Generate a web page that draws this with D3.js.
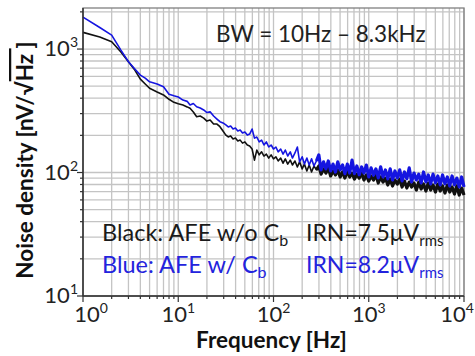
<!DOCTYPE html>
<html>
<head>
<meta charset="utf-8">
<script src="https://cdn.jsdelivr.net/npm/d3@7"></script>
<style>
  body { margin: 0; background: #fff; }
  svg text { font-family: Lato, "Open Sans", sans-serif; }
</style>
</head>
<body>
<div id="chart"></div>
<script>
// low frequency part (shared frequency points)
var freqLow = [1, 1.5, 2, 2.5, 3, 3.5, 4, 4.5, 5, 6, 7, 8, 9, 10, 11.2, 12.4, 13.3, 14.4, 15.6, 17, 18.5, 20, 21.6, 23.5, 25.5, 27.4, 29.5];
var blueLow = [1815, 1494, 1298, 981, 789, 689, 615, 582, 543, 521, 495, 430, 418, 409, 386, 377, 352, 362, 341, 333, 321, 306, 310, 287, 271, 258, 252];
var blackLow = [1365, 1251, 1146, 946, 790, 676, 571, 521, 481, 449, 425, 392, 370, 360, 352, 340, 331, 309, 283, 287, 276, 261, 266, 247, 247, 235, 217];

// noisy part
var freqHigh = [
  31.6, 33.5, 35.5, 37.6, 39.8, 42.2, 44.7, 47.3, 50.1, 53.1,
  56.2, 59.6, 63.1, 66.8, 70.8, 75.0, 79.4, 84.1, 89.1, 94.4,
  100, 106, 112, 119, 126, 133, 141, 150, 158, 168,
  178, 188, 200, 211, 224, 237, 251, 266, 282, 299,
  316, 335, 355, 376, 398, 422, 447, 473, 501, 531,
  562, 596, 631, 668, 708, 750, 794, 841, 891, 944,
  1000, 1059, 1122, 1189, 1259, 1334, 1413, 1496, 1585, 1679,
  1778, 1884, 1995, 2113, 2239, 2371, 2512, 2661, 2818, 2985,
  3162, 3350, 3548, 3758, 3981, 4217, 4467, 4732, 5012, 5309,
  5623, 5957, 6310, 6683, 7079, 7499, 7943, 8414, 8913, 9441,
  10000];
var blueHigh = [
  243, 234, 238, 225, 229, 217, 221, 209, 213, 201,
  205, 225, 190, 194, 177, 183, 167, 177, 161, 167,
  155, 161, 147, 155, 141, 152, 136, 147, 131, 144,
  161, 122, 134, 117, 131, 115, 129, 113, 124, 139,
  105, 122, 107, 124, 103, 117, 101, 122, 105, 115,
  98, 117, 99, 126, 98, 113, 96, 111, 99, 115,
  92, 109, 95, 107, 90.5, 111, 92, 105, 89, 107,
  87, 103, 90.5, 105, 85.5, 101, 89, 109, 84, 99,
  87, 97, 82.5, 101, 84, 95.5, 81, 97, 82.5, 93.8,
  79.5, 95.5, 81, 92, 78, 93.8, 79.5, 90.2, 76.5, 92,
  76.5];
var blackHigh = [
  201, 194, 198, 187, 190, 180, 183, 173, 177, 167,
  164, 155, 126, 152, 139, 147, 136, 141, 131, 139,
  129, 134, 124, 131, 119, 129, 117, 126, 115, 124,
  111, 122, 107, 117, 103, 115, 101, 113, 105, 113,
  97, 107, 99, 109, 93.8, 103, 95.5, 105, 92, 101,
  90.2, 103, 92, 99, 88.5, 97, 90.2, 99, 86.9, 95.5,
  85.3, 93.8, 86.9, 95.5, 82.2, 92, 83.7, 90.2, 79.2, 88.5,
  77.8, 86.9, 80.7, 88.5, 76.3, 85.3, 74.9, 83.7, 76.3, 82.2,
  72.1, 83.7, 73.5, 80.7, 70.8, 82.2, 72.1, 79.2, 69.5, 80.7,
  70.8, 77.8, 68.2, 79.2, 69.5, 76.3, 66.9, 77.8, 65.7, 74.9,
  65.7];

var xTicks = [1, 10, 100, 1000, 10000];
var yTicks = [10, 100, 1000];

var width = 475, height = 356;
var margin = {top: 8, right: 11, bottom: 60, left: 83};

var svg = d3.select("#chart").append("svg")
  .attr("width", width)
  .attr("height", height);

var x = d3.scaleLog().domain([1, 10000]).range([margin.left, width - margin.right]);
var y = d3.scaleLog().domain([10, 2150]).range([height - margin.bottom, margin.top]);

// grid
var xGrid = [];
xTicks.forEach(function(t) {
  for (var m = 1; m < 10; m++) { if (t * m <= 10000) xGrid.push(t * m); }
});
var yGrid = [];
[10, 100, 1000].forEach(function(t) {
  for (var m = 1; m < 10; m++) { if (t * m <= 2150) yGrid.push(t * m); }
});

svg.append("g").selectAll("line").data(xGrid).enter().append("line")
  .attr("x1", d => x(d)).attr("x2", d => x(d))
  .attr("y1", y.range()[1]).attr("y2", y.range()[0])
  .attr("stroke", "#c4c4c4").attr("stroke-width", 1.3);

svg.append("g").selectAll("line").data(yGrid).enter().append("line")
  .attr("y1", d => y(d)).attr("y2", d => y(d))
  .attr("x1", x.range()[0]).attr("x2", x.range()[1])
  .attr("stroke", "#c4c4c4").attr("stroke-width", 1.3);

// frame
svg.append("rect")
  .attr("x", x.range()[0]).attr("y", y.range()[1])
  .attr("width", x.range()[1] - x.range()[0])
  .attr("height", y.range()[0] - y.range()[1])
  .attr("fill", "none").attr("stroke", "#808080").attr("stroke-width", 1.3);

// curves
var line = d3.line().x(d => x(d.f)).y(d => y(d.v));
var freqAll = freqLow.concat(freqHigh);
var blackAll = blackLow.concat(blackHigh);
var blueAll = blueLow.concat(blueHigh);
var blackData = freqAll.map((f, i) => ({f: f, v: blackAll[i]}));
var blueData = freqAll.map((f, i) => ({f: f, v: blueAll[i]}));
// the dense part above ~300 Hz reads as a solid band
var denseStart = freqLow.length + 38;

function drawSeries(data, color) {
  svg.append("path").datum(data)
    .attr("d", line).attr("fill", "none")
    .attr("stroke", color).attr("stroke-width", 1.6).attr("stroke-linejoin", "round");
  svg.append("path").datum(data.slice(denseStart))
    .attr("d", line).attr("fill", "none")
    .attr("stroke", color).attr("stroke-width", 3.2).attr("stroke-linejoin", "round");
}
drawSeries(blackData, "#111");
drawSeries(blueData, "#1515e0");

// axes lines + ticks
var axisColor = "#333";
svg.append("line")
  .attr("x1", x.range()[0]).attr("x2", x.range()[1])
  .attr("y1", y.range()[0]).attr("y2", y.range()[0])
  .attr("stroke", axisColor).attr("stroke-width", 1.5);
svg.append("line")
  .attr("x1", x.range()[0]).attr("x2", x.range()[0])
  .attr("y1", y.range()[0]).attr("y2", y.range()[1])
  .attr("stroke", axisColor).attr("stroke-width", 1.5);

svg.append("g").selectAll("line").data(xGrid).enter().append("line")
  .attr("x1", d => x(d)).attr("x2", d => x(d))
  .attr("y1", y.range()[0]).attr("y2", d => y.range()[0] + (xTicks.indexOf(d) >= 0 ? 6 : 3))
  .attr("stroke", axisColor).attr("stroke-width", 1.2);
svg.append("g").selectAll("line").data(yGrid).enter().append("line")
  .attr("y1", d => y(d)).attr("y2", d => y(d))
  .attr("x1", x.range()[0]).attr("x2", d => x.range()[0] - (yTicks.indexOf(d) >= 0 ? 6 : 3))
  .attr("stroke", axisColor).attr("stroke-width", 1.2);

// tick labels (end labels pushed inside the page)
var xl = svg.append("g").selectAll("text").data(xTicks).enter().append("text")
  .attr("x", d => Math.max(91, Math.min(457, x(d))))
  .attr("y", 322)
  .attr("text-anchor", "middle").attr("font-size", 22).attr("fill", "#222");
xl.append("tspan").text("10");
xl.append("tspan").attr("dy", -9).attr("font-size", 14).text(d => Math.round(Math.log10(d)));

var yl = svg.append("g").selectAll("text").data(yTicks).enter().append("text")
  .attr("x", 78).attr("y", d => y(d) + 7)
  .attr("text-anchor", "end").attr("font-size", 22).attr("fill", "#222");
yl.append("tspan").text("10");
yl.append("tspan").attr("dy", -9).attr("font-size", 14).text(d => Math.round(Math.log10(d)));

// axis titles
svg.append("text")
  .attr("x", (x.range()[0] + x.range()[1]) / 2 - 2).attr("y", 348)
  .attr("text-anchor", "middle").attr("font-size", 22.5).attr("font-weight", "bold").attr("fill", "#111")
  .text("Frequency [Hz]");

var yt = svg.append("text")
  .attr("transform", "translate(33,160) rotate(-90)")
  .attr("text-anchor", "middle").attr("font-size", 22.5).attr("font-weight", "bold").attr("fill", "#111");
yt.append("tspan").text("Noise density [nV/√");
yt.append("tspan").attr("text-decoration", "overline").text("Hz ");
yt.append("tspan").text("]");

// annotations
svg.append("text")
  .attr("x", 216).attr("y", 42)
  .attr("font-size", 22.5).attr("fill", "#222")
  .text("BW = 10Hz – 8.3kHz");

function legendLine(yPos, label, irn, color) {
  var t = svg.append("text").attr("x", 102).attr("y", yPos)
    .attr("font-size", 23.5).attr("fill", color);
  t.append("tspan").text(label);
  t.append("tspan").attr("dy", 5).attr("font-size", 16).text("b");
  var t2 = svg.append("text").attr("x", 306).attr("y", yPos)
    .attr("font-size", 23).attr("fill", color);
  t2.append("tspan").text(irn);
  t2.append("tspan").attr("dy", 5).attr("font-size", 15).text("rms");
}
legendLine(241, "Black: AFE w/o C", "IRN=7.5μV", "#1a1a1a");
legendLine(273, "Blue: AFE w/ C", "IRN=8.2μV", "#2323dd");
</script>
</body>
</html>
